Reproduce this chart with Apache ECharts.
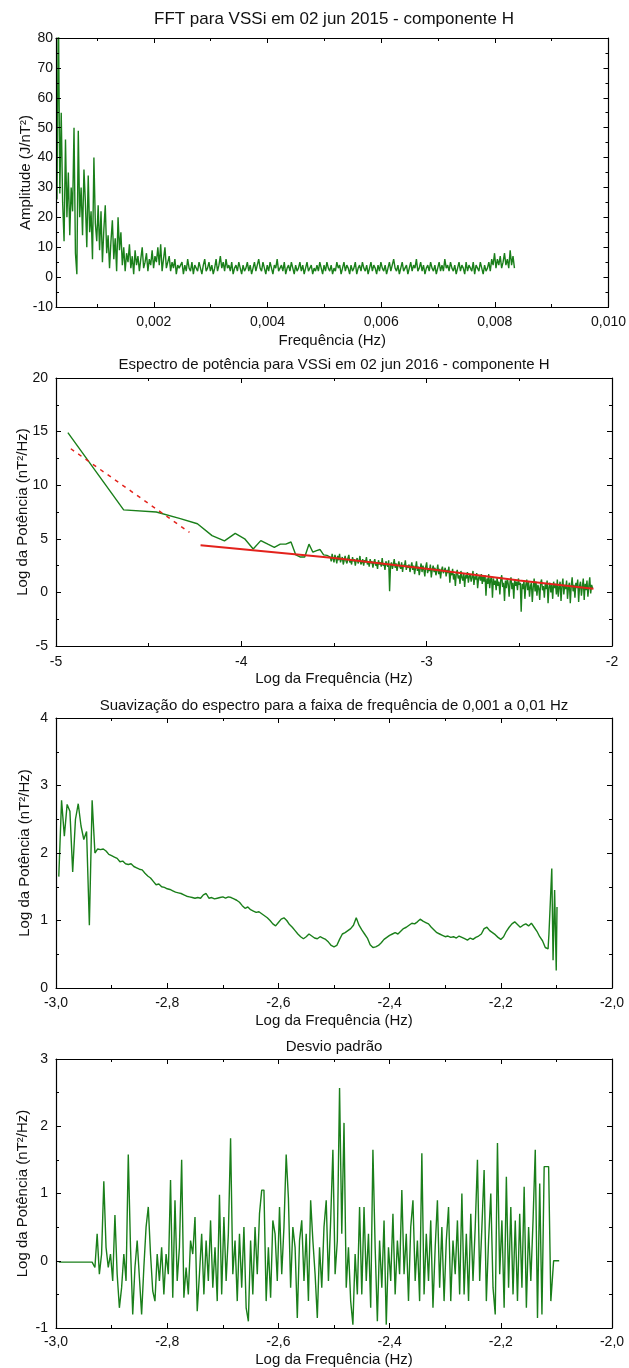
<!DOCTYPE html>
<html><head><meta charset="utf-8">
<script src="https://cdn.jsdelivr.net/npm/echarts@6/dist/echarts.min.js"></script>
<style>html,body{margin:0;padding:0;background:#fff}#c{width:629px;height:1368px}</style>
</head><body><div id="c"></div>
<script>
// ---------- DATA ----------
const titles = [
  'FFT para VSSi em 02 jun 2015 - componente H',
  'Espectro de potência para VSSi em 02 jun 2016 - componente H',
  'Suavização do espectro para a faixa de frequência de 0,001 a 0,01 Hz',
  'Desvio padrão'
];
// Panel 1: FFT amplitude (frequency grid start / step)
const fftF0 = 0.000295, fftDF = 0.000025;
const fftAmp = [
  26,92,28,55,25,12,46,20,35,14,30,22,50,8,1,
  49,20,30,14,36,25,10,34,
  15,22,6,40,18,12,24,9,
  22,5,16,24,8,14,3,12,
  19,6,13,2,20,9,15,4,
  10,2,8,5,11,3,7,1,
  9,4,7,2,6,10,3,5,
  8,2,6,4,9,3,7,5,
  10,4,11,2,6,10,3,5,
  7,2,5,3,6,1,4,3,
  3,5,1,4,2,6,3,2,5,1,4,3,
  2,5,3,1,4,6,2,3,5,2,4,1,
  3,6,2,4,7,3,5,2,6,3,4,2,
  5,1,3,4,2,5,3,1,4,2,3,5,
  2,4,1,3,5,2,4,6,3,2,5,3,
  1,4,2,5,3,1,4,3,6,2,3,4,
  2,5,1,3,4,2,5,3,1,4,2,3,
  5,2,4,1,3,5,2,3,4,1,3,2,
  4,2,5,3,1,4,2,5,3,2,4,1,
  3,2,5,3,4,1,3,5,2,4,3,1,
  4,2,3,5,1,3,4,2,5,3,2,4,
  1,3,5,2,4,3,1,4,2,5,3,2,
  4,1,3,5,2,4,6,3,2,4,1,3,
  5,2,3,4,1,3,5,2,4,3,6,2,
  3,5,2,4,1,3,4,2,5,3,2,4,
  1,3,5,2,4,2,6,3,4,2,5,3,
  2,4,1,3,5,2,4,3,1,5,2,4,
  3,2,5,1,4,3,2,5,3,1,4,2,
  3,5,2,6,4,8,3,6,4,7,3,5,8,4,6,3,9,4,7,3
];
const fftXTicks = [0.002, 0.004, 0.006, 0.008, 0.010];
const fftXMinor = [0.001, 0.003, 0.005, 0.007, 0.009];

// Panel 2: power spectrum (log-log)
const psdHead = [
  [-4.936,14.9],[-4.635,7.7],[-4.459,7.5],[-4.334,6.9],[-4.237,6.4],[-4.158,5.3],
  [-4.091,4.8],[-4.033,5.5],[-3.982,5.0],[-3.936,4.05],[-3.895,4.83],[-3.857,4.5],
  [-3.822,4.2],[-3.790,4.5],[-3.760,4.5],[-3.732,4.7],[-3.706,3.5],[-3.681,3.3],
  [-3.658,3.3],[-3.635,4.5],[-3.614,3.75],[-3.594,3.9],[-3.575,4.0],[-3.556,3.5],[-3.538,3.45]
];
const psdX0 = -3.52, psdDX = 0.005;
const psdBody = [
  3.3,2.9,3.6,3.1,2.8,3.5,3.2,2.7,3.4,3.0,3.6,2.8,3.1,3.3,2.6,3.0,3.4,2.9,2.7,3.2,3.5,2.8,3.0,2.6,3.3,2.9,3.1,2.5,3.0,3.2,2.7,2.9,3.4,2.6,2.8,3.1,2.5,3.0,2.8,3.3,2.6,2.9,2.4,3.1,2.7,
  2.9,2.3,2.8,3.1,2.5,2.7,2.2,3.0,2.6,2.8,2.4,3.2,2.5,2.7,2.1,2.9,2.6,2.4,3.0,0.1,2.5,2.8,2.2,2.6,3.1,2.3,2.7,2.0,2.5,2.9,2.4,2.2,2.8,1.9,2.6,2.4,3.0,2.1,2.5,2.3,
  2.6,1.9,2.4,2.8,2.1,2.5,1.7,2.3,2.9,2.0,2.4,1.6,2.2,2.7,1.9,2.5,2.1,1.5,2.4,2.8,1.8,2.2,2.0,2.6,1.4,2.1,2.5,1.9,2.3,1.6,2.0,2.6,1.7,2.2,1.3,2.1,2.4,1.8,2.0,2.3,
  1.5,2.1,1.8,2.4,0.9,1.9,1.6,2.2,1.2,1.7,0.6,1.8,2.1,1.3,1.6,0.8,2.0,1.4,1.1,1.8,0.5,1.6,1.3,1.9,0.9,1.5,1.7,1.0,1.4,2.0,0.7,1.5,1.2,1.8,0.4,1.3,1.6,1.1,1.7,0.8,
  1.5,1.0,1.6,-0.3,1.3,0.8,1.7,0.4,1.2,1.5,-0.5,1.3,0.7,1.1,0.2,1.4,0.6,1.0,-0.2,1.2,1.6,0.5,0.9,-0.8,1.1,0.4,1.3,0.8,-0.4,1.0,1.4,0.3,0.9,-0.6,1.2,0.6,1.0,0.2,1.3,0.7,
  0.9,-1.8,0.8,0.3,1.1,-0.6,0.7,1.2,0.2,1.0,-0.4,0.6,0.9,-0.9,0.5,1.3,0.1,1.0,-0.3,0.7,0.4,-0.7,0.9,1.2,0.2,0.6,-0.5,0.8,0.3,1.1,-1.0,0.5,0.9,0.0,0.7,-0.6,1.0,0.4,0.8,-0.2,
  1.2,-0.4,0.5,1.0,-0.8,0.6,1.3,-0.2,0.7,0.3,1.1,-0.6,0.5,0.9,-1.0,0.6,1.4,0.1,0.7,-0.5,0.9,0.4,1.2,-0.9,0.6,1.0,-0.3,0.5,1.3,-0.7,0.8,0.2,1.1,-0.4,0.6,1.4,-0.1,0.7,0.4
];
const fitSolid = [[-4.22,4.4],[-3.5,3.2],[-3.0,2.2],[-2.5,1.1],[-2.1,0.35]];
const fitDashed = [[-4.92,13.4],[-4.28,5.6]];

// Panel 3: smoothed spectrum
const smX0 = -2.995, smDX = 0.005;
const smY = [
  1.65,2.78,2.25,2.72,2.62,1.72,2.5,2.73,2.4,2.2,
  2.32,0.93,2.78,2.0,2.06,2.05,2.06,2.03,1.98,1.96,
  1.94,1.92,1.87,1.88,1.84,1.83,1.84,1.8,1.78,1.76,
  1.75,1.7,1.66,1.63,1.58,1.53,1.54,1.5,1.49,1.47,
  1.46,1.44,1.42,1.41,1.4,1.38,1.36,1.35,1.34,1.33,
  1.34,1.33,1.38,1.4,1.33,1.34,1.32,1.33,1.34,1.35,
  1.33,1.35,1.34,1.32,1.3,1.27,1.22,1.18,1.2,1.16,
  1.14,1.12,1.13,1.1,1.07,1.04,1.0,0.95,0.92,0.97,
  1.02,1.04,1.0,0.94,0.9,0.85,0.8,0.76,0.73,0.76,
  0.8,0.77,0.74,0.73,0.76,0.74,0.72,0.68,0.63,0.61,
  0.63,0.72,0.8,0.82,0.85,0.88,0.93,1.04,0.93,0.86,
  0.8,0.74,0.64,0.6,0.61,0.63,0.67,0.72,0.75,0.78,
  0.8,0.82,0.8,0.84,0.88,0.9,0.93,0.96,0.95,0.98,
  1.02,0.99,0.97,0.95,0.9,0.86,0.82,0.8,0.78,0.76,
  0.77,0.75,0.76,0.74,0.77,0.75,0.73,0.71,0.74,0.72,
  0.75,0.77,0.8,0.88,0.9,0.85,0.82,0.79,0.75,0.72,
  0.76,0.84,0.9,0.95,0.98,0.94,0.9,0.93,0.95,0.92,
  0.96,0.9,0.84,0.76,0.7,0.6,0.58
];
const smTail = [[-2.1134,0.8],[-2.1083,1.77],[-2.106,0.41],[-2.1032,1.45],[-2.1003,0.26],[-2.0989,1.2]];

// Panel 4: standard deviation
const devHead = [[-2.995,-0.02],[-2.935,-0.02]];
const devX0 = -2.93, devDX = 0.004;
const devY = [
  -0.1,0.4,-0.2,0.1,1.18,0.2,-0.1,0.1,-0.3,0.68,
  -0.2,-0.7,-0.4,0.1,-0.3,1.58,0.2,-0.8,-0.1,0.3,
  -0.25,-0.8,-0.1,0.5,0.8,0.1,-0.45,-0.6,0.1,-0.3,
  0.2,-0.5,0.1,-0.2,1.2,-0.55,0.9,-0.3,0.2,1.5,
  -0.55,-0.1,-0.5,0.3,0.1,0.65,-0.75,-0.2,0.4,-0.5,
  0.3,-0.3,0.6,-0.4,0.2,-0.6,0.98,-0.5,0.65,-0.3,
  0.4,1.82,-0.2,0.3,-0.6,0.4,-0.4,0.5,-0.7,-0.9,
  0.3,-0.5,0.5,-0.2,0.7,1.05,1.05,-0.6,0.2,-0.55,
  0.6,0.4,-0.3,0.8,-0.2,0.5,1.58,0.93,-0.4,0.5,
  0.2,-0.85,0.3,0.6,-0.3,0.4,-0.6,0.9,0.3,-0.2,
  -0.85,0.2,-0.4,0.5,0.9,-0.3,0.6,1.65,-0.2,0.3,
  2.57,0.4,2.05,-0.4,0.2,-0.6,-0.95,0.1,-0.5,0.8,
  -0.5,0.8,-0.3,0.4,-0.7,1.65,0.2,-0.9,0.3,-0.4,
  0.6,-0.95,0.2,-0.3,0.7,-0.5,0.3,-0.2,1.05,-0.2,
  0.4,-0.6,0.5,0.9,-0.3,0.3,-0.6,1.6,-0.5,0.4,
  -0.3,0.6,-0.7,0.2,0.9,-0.4,0.5,-0.6,0.3,0.8,
  -0.6,0.3,-0.2,0.6,-0.5,1.0,-0.5,0.4,-0.6,0.7,
  -0.3,0.5,1.5,-0.3,0.5,1.35,-0.6,0.3,1.0,-0.4,
  -0.8,1.75,-0.2,0.6,-0.7,1.25,-0.4,0.8,-0.5,0.6,
  -0.6,0.7,-0.4,1.1,-0.7,0.5,-0.3,0.6,1.65,-0.85,
  1.15,-0.8,1.4,1.4,1.4,-0.6
];
const devTail = [[-2.105,0.0],[-2.095,0.0]];

// ---------- BUILD ----------
const FONT = "'Liberation Sans', Arial, Helvetica, sans-serif";
const GREEN = '#1a7f1a', RED = '#e3221c';
const grid = (top, height) => ({left:56, right:17, top, height, containLabel:false});
const grids = [grid(38,269), grid(378,268), grid(718,270), grid(1059,269)];

function gridSeries(x0, dx, ys) { return ys.map((y, i) => [x0 + i * dx, y]); }
const comma = (d) => (v) => v.toFixed(d).replace('.', ',');

const lineAx = {show:true, onZero:false, lineStyle:{color:'#000', width:1.2}};
const tickSt = {color:'#000', width:1};

function valAxis(gi, pos, o) {
  const isMain = (pos === 'bottom' || pos === 'left');
  const ax = {
    type:'value', gridIndex:gi, position:pos, min:o.min, max:o.max,
    axisLine: lineAx,
    axisTick:{show:true, inside:true, length:5, lineStyle:tickSt},
    splitLine:{show:false}, minorSplitLine:{show:false},
    axisLabel:{show:isMain, color:'#111', fontSize:14, fontFamily:FONT, margin:o.margin, formatter:o.fmt},
    z: 5
  };
  if (o.interval != null) {
    ax.interval = o.interval;
    ax.minorTick = {show:true, splitNumber:2, length:3, lineStyle:tickSt};
  }
  if (o.labelValues) { ax.axisLabel.customValues = o.labelValues; ax.axisTick.customValues = o.labelValues; }
  if (isMain && o.name) {
    ax.name = o.name; ax.nameLocation = 'middle'; ax.nameGap = o.nameGap;
    ax.nameTextStyle = {color:'#111', fontSize:15, fontFamily:FONT};
    if (pos === 'left') ax.nameMoveOverlap = false;
  }
  return ax;
}
function minorAxis(gi, pos, o, vals) {
  return {
    type:'value', gridIndex:gi, position:pos, min:o.min, max:o.max,
    axisLine:{show:false, onZero:false}, splitLine:{show:false},
    axisTick:{show:true, inside:true, length:3, lineStyle:tickSt, customValues:vals},
    axisLabel:{show:false, customValues:vals}
  };
}

const xCfg = [
  {min:0.000278, max:0.010, labelValues:fftXTicks, fmt:comma(3), name:'Frequência (Hz)', nameGap:26, margin:8},
  {min:-5, max:-2, interval:1, fmt:(v)=>String(v), name:'Log da Frequência (Hz)', nameGap:25, margin:9},
  {min:-3, max:-2, interval:0.2, fmt:comma(1), name:'Log da Frequência (Hz)', nameGap:25, margin:8},
  {min:-3, max:-2, interval:0.2, fmt:comma(1), name:'Log da Frequência (Hz)', nameGap:24, margin:7}
];
const yCfg = [
  {min:-10, max:80, interval:10, fmt:(v)=>String(v), name:'Amplitude (J/nT²)', nameGap:23, margin:3},
  {min:-5, max:20, interval:5, fmt:(v)=>String(v), name:'Log da Potência (nT²/Hz)', nameGap:26, margin:8},
  {min:0, max:4, interval:1, fmt:(v)=>String(v), name:'Log da Potência (nT²/Hz)', nameGap:24, margin:8},
  {min:-1, max:3, interval:1, fmt:(v)=>String(v), name:'Log da Potência (nT²/Hz)', nameGap:26, margin:8}
];

const xAxes = [], yAxes = [], xIdx = [], yIdx = [];
for (let g = 0; g < 4; g++) {
  xIdx.push(xAxes.length);
  xAxes.push(valAxis(g, 'bottom', xCfg[g]));
  xAxes.push(valAxis(g, 'top', xCfg[g]));
  if (g === 0) {
    xAxes.push(minorAxis(g, 'bottom', xCfg[g], fftXMinor));
    xAxes.push(minorAxis(g, 'top', xCfg[g], fftXMinor));
  }
  yIdx.push(yAxes.length);
  yAxes.push(valAxis(g, 'left', yCfg[g]));
  yAxes.push(valAxis(g, 'right', yCfg[g]));
}

function line(g, data, color, width, extra) {
  return Object.assign({
    type:'line', xAxisIndex:xIdx[g], yAxisIndex:yIdx[g], data, showSymbol:false,
    symbol:'none', clip:true, animation:false,
    lineStyle:{color, width}, z:2
  }, extra || {});
}

const series = [
  line(0, gridSeries(fftF0, fftDF, fftAmp), GREEN, 1.4),
  line(1, psdHead.concat(gridSeries(psdX0, psdDX, psdBody)), GREEN, 1.4),
  line(1, fitSolid, RED, 2, {z:3}),
  line(1, fitDashed, RED, 1.5, {z:3, lineStyle:{color:RED, width:1.5, type:[4,5]}}),
  line(2, gridSeries(smX0, smDX, smY).concat(smTail), GREEN, 1.4),
  line(3, devHead.concat(gridSeries(devX0, devDX, devY), devTail), GREEN, 1.4)
];

const titleY = [19, 365, 706, 1047];
const titleSize = [17, 15, 15, 15];
const graphic = titles.map((t, i) => ({
  type:'text', x:334, y:titleY[i],
  style:{text:t, fontSize:titleSize[i], fontFamily:FONT, fill:'#111', align:'center', verticalAlign:'middle'}
}));

const chart = echarts.init(document.getElementById('c'), null, {renderer:'canvas'});
chart.setOption({
  backgroundColor:'#fff', animation:false,
  grid:grids, xAxis:xAxes, yAxis:yAxes, series, graphic
});
</script>
</body></html>
